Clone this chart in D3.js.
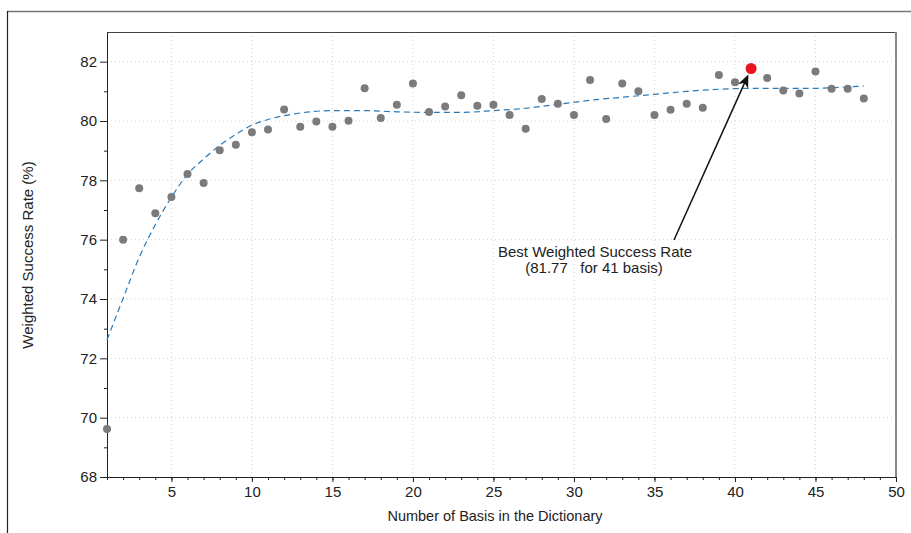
<!DOCTYPE html>
<html>
<head>
<meta charset="utf-8">
<script src="https://cdn.jsdelivr.net/npm/d3@7"></script>
<style>
  body { margin: 0; background: #fff; }
  svg { display: block; font-family: "Liberation Sans", Arial, sans-serif; }
  .axis path, .axis line { stroke: #222; }
  .axis text { font-size: 15px; fill: #222; font-family: "Liberation Sans", Arial, sans-serif; }
</style>
</head>
<body>
<div id="chart"></div>
<script>
// measured success rate per dictionary size
var basis = d3.range(1, 49);
var rates = [69.62, 76.0, 77.73, 76.89, 77.44, 78.21, 77.91, 79.01, 79.2, 79.62,
  79.71, 80.39, 79.81, 79.98, 79.81, 80.01, 81.1, 80.1, 80.55, 81.26,
  80.3, 80.49, 80.87, 80.51, 80.55, 80.2, 79.74, 80.74, 80.58, 80.2,
  81.38, 80.07, 81.26, 81.0, 80.2, 80.38, 80.58, 80.45, 81.55, 81.31,
  81.77, 81.45, 81.03, 80.93, 81.67, 81.09, 81.09, 80.76];

// fitted trend (dashed)
var fitX = [1, 2, 3, 4, 5, 6, 7, 8, 9, 10, 11, 12, 13, 15, 17, 19, 21, 23, 25, 27, 29, 31, 33, 35, 37, 39, 41, 43, 45, 46, 48];
var fitY = [72.62, 74.02, 75.4, 76.5, 77.43, 78.2, 78.72, 79.18, 79.55, 79.86, 80.05, 80.18, 80.27, 80.35, 80.35, 80.31, 80.29,
  80.29, 80.35, 80.43, 80.56, 80.7, 80.8, 80.9, 81.0, 81.07, 81.1, 81.1, 81.1, 81.12, 81.18];

var xTicks = [5, 10, 15, 20, 25, 30, 35, 40, 45, 50];
var yTicks = [68, 70, 72, 74, 76, 78, 80, 82];

var W = 911, H = 533;
var margin = {left: 107, top: 32, right: 15, bottom: 56};
var width = W - margin.left - margin.right, height = H - margin.top - margin.bottom;

var svg = d3.select("#chart").append("svg").attr("width", W).attr("height", H);

// outer frame (partly clipped in original)
svg.append("line").attr("x1", 7).attr("x2", W).attr("y1", 11.5).attr("y2", 11.5).attr("stroke", "#777").attr("stroke-width", 1.5);
svg.append("line").attr("x1", 7.5).attr("x2", 7.5).attr("y1", 11).attr("y2", H).attr("stroke", "#222").attr("stroke-width", 1.2);

var g = svg.append("g").attr("transform", "translate(" + margin.left + "," + margin.top + ")");

var x = d3.scaleLinear().domain([1, 50]).range([0, width]);
var y = d3.scaleLinear().domain([68, 83]).range([height, 0]);

// grid
g.append("g").selectAll("line").data(xTicks.slice(0, -1)).join("line")
  .attr("x1", d => x(d)).attr("x2", d => x(d)).attr("y1", 0).attr("y2", height)
  .attr("stroke", "#d4d4d4").attr("stroke-dasharray", "1,3");
g.append("g").selectAll("line").data(yTicks.slice(1)).join("line")
  .attr("x1", 0).attr("x2", width).attr("y1", d => y(d)).attr("y2", d => y(d))
  .attr("stroke", "#d4d4d4").attr("stroke-dasharray", "1,3");

// top and right borders
g.append("line").attr("x1", 0).attr("x2", width).attr("y1", 0.5).attr("y2", 0.5).attr("stroke", "#444");
g.append("line").attr("x1", width).attr("x2", width).attr("y1", 0).attr("y2", height).attr("stroke", "#888").attr("stroke-width", 2);

// minor ticks
g.append("g").attr("class", "axis").attr("transform", "translate(0," + height + ")")
  .call(d3.axisBottom(x).tickValues(d3.range(1, 51)).tickSize(3).tickFormat(""))
  .call(a => a.select(".domain").remove());
g.append("g").attr("class", "axis")
  .call(d3.axisLeft(y).tickValues(d3.range(69, 83, 2)).tickSize(3).tickFormat(""))
  .call(a => a.select(".domain").remove());

// major axes
g.append("g").attr("class", "axis").attr("transform", "translate(0," + height + ")")
  .call(d3.axisBottom(x).tickValues(xTicks).tickSize(5).tickSizeOuter(0).tickPadding(4).tickFormat(d3.format("d")));
g.append("g").attr("class", "axis")
  .call(d3.axisLeft(y).tickValues(yTicks).tickSize(7).tickSizeOuter(0).tickPadding(3).tickFormat(d3.format("d")));

// axis titles
svg.append("text").attr("x", 495).attr("y", 521).attr("text-anchor", "middle")
  .style("font-size", "14.5px").attr("fill", "#222").text("Number of Basis in the Dictionary");
svg.append("text").attr("transform", "translate(33,255) rotate(-90)").attr("text-anchor", "middle")
  .style("font-size", "15px").attr("fill", "#222").text("Weighted Success Rate (%)");

// fitted trend
var line = d3.line().x((d, i) => x(fitX[i])).y(d => y(d)).curve(d3.curveMonotoneX);
g.append("path").datum(fitY).attr("d", line).attr("fill", "none")
  .attr("stroke", "#2a7ab8").attr("stroke-width", 1.2).attr("stroke-dasharray", "6,4");

// points
g.append("g").selectAll("circle").data(rates).join("circle")
  .attr("cx", (d, i) => x(basis[i])).attr("cy", d => y(d)).attr("r", 4).attr("fill", "#7b7b7d");

var best = d3.maxIndex(rates);
var bx = x(basis[best]), by = y(rates[best]);
g.append("circle").attr("cx", bx).attr("cy", by).attr("r", 5.5).attr("fill", "#e8141e");

// annotation
var tx = 674 - margin.left, ty = 240 - margin.top;
var ang = Math.atan2(by - ty, bx - tx);
var ex = bx - Math.cos(ang) * 6.5, ey = by - Math.sin(ang) * 6.5;
g.append("line").attr("x1", tx).attr("y1", ty).attr("x2", ex - Math.cos(ang) * 9).attr("y2", ey - Math.sin(ang) * 9)
  .attr("stroke", "#111").attr("stroke-width", 1.5);
g.append("path").attr("d", "M0,0L-13,-5.5L-9.5,0L-13,5.5Z").attr("fill", "#111")
  .attr("transform", "translate(" + ex + "," + ey + ") rotate(" + (ang * 180 / Math.PI) + ")");

var ann = svg.append("text").attr("text-anchor", "middle").style("font-size", "15px").attr("fill", "#222")
  .attr("xml:space", "preserve").style("white-space", "pre");
ann.append("tspan").attr("x", 595).attr("y", 257).text("Best Weighted Success Rate");
ann.append("tspan").attr("x", 594).attr("y", 273).text("(" + d3.format(".2f")(rates[best]) + "   for " + basis[best] + " basis)");
</script>
</body>
</html>
